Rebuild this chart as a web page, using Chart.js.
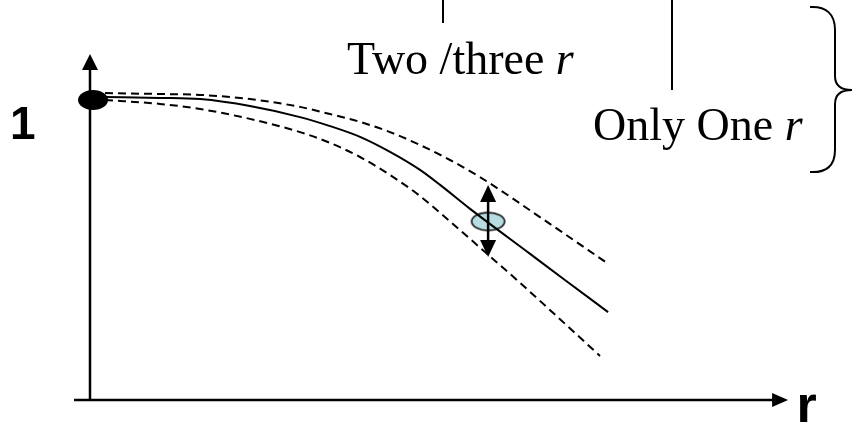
<!DOCTYPE html>
<html>
<head>
<meta charset="utf-8">
<script src="https://cdn.jsdelivr.net/npm/chart.js@4.4.0/dist/chart.umd.min.js"></script>
<style>
  body { margin: 0; background: #fff; }
  #myChart { display: block; }
</style>
</head>
<body>
<canvas id="myChart" width="856" height="427"></canvas>
<script>
// data (r along x, normalised value along y, 1 = start of the curve)
const rSolid = [0.05, 0.233, 0.367, 0.533, 0.7, 0.8, 0.9, 1.0, 1.1, 1.167, 1.267, 1.467, 1.583, 1.727];
const ySolid = [1.01, 1.007, 1.003, 0.98, 0.943, 0.913, 0.877, 0.827, 0.767, 0.717, 0.637, 0.487, 0.40, 0.293];

const rUpper = [0.05, 0.233, 0.367, 0.533, 0.7, 0.8, 0.9, 1.0, 1.1, 1.2, 1.3, 1.533, 1.723];
const yUpper = [1.023, 1.02, 1.017, 1.003, 0.977, 0.953, 0.927, 0.893, 0.85, 0.80, 0.743, 0.587, 0.457];

const rLower = [0.05, 0.233, 0.367, 0.533, 0.7, 0.8, 0.9, 1.0, 1.1, 1.183, 1.317, 1.423, 1.7];
const yLower = [1.0, 0.987, 0.97, 0.937, 0.893, 0.857, 0.81, 0.75, 0.68, 0.61, 0.493, 0.40, 0.147];

const startPoint = { x: 0.01, y: 1 };
const markPoint = { x: 1.327, y: 0.595 };
const markSpread = [0.477, 0.717];   // ends of the double arrow

const yTickLabel = '1';
const xAxisLabel = 'r';

function toXY(xs, ys) {
    return xs.map(function (x, i) { return { x: x, y: ys[i] }; });
}

function ellipseImage(w, h, fill, stroke) {
    const c = document.createElement('canvas');
    c.width = w + 4; c.height = h + 4;
    const g = c.getContext('2d');
    g.beginPath();
    g.ellipse(c.width / 2, c.height / 2, w / 2, h / 2, 0, 0, Math.PI * 2);
    g.fillStyle = fill;
    g.fill();
    if (stroke) { g.lineWidth = 1.5; g.strokeStyle = stroke; g.stroke(); }
    return c;
}

//--- axes, arrows, labels and brace
const sketchPlugin = {
    id: 'sketch',
    beforeDatasetsDraw: function (chart) {
        const g = chart.ctx, xs = chart.scales.x, ys = chart.scales.y;
        const x0 = xs.getPixelForValue(0), y0 = ys.getPixelForValue(0);
        g.save();
        g.strokeStyle = '#000'; g.fillStyle = '#000'; g.lineWidth = 2.5;
        // y axis
        const yTop = ys.getPixelForValue(1.153);
        g.beginPath(); g.moveTo(x0, y0 + 1); g.lineTo(x0, yTop + 12); g.stroke();
        g.beginPath(); g.moveTo(x0, yTop); g.lineTo(x0 - 8, yTop + 16); g.lineTo(x0 + 8, yTop + 16); g.closePath(); g.fill();
        // x axis
        const xEnd = xs.getPixelForValue(2.327);
        g.beginPath(); g.moveTo(x0 - 16, y0); g.lineTo(xEnd - 12, y0); g.stroke();
        g.beginPath(); g.moveTo(xEnd, y0); g.lineTo(xEnd - 16, y0 - 7); g.lineTo(xEnd - 16, y0 + 7); g.closePath(); g.fill();
        g.restore();
    },
    afterDatasetsDraw: function (chart) {
        const g = chart.ctx, xs = chart.scales.x, ys = chart.scales.y;
        g.save();
        g.strokeStyle = '#000'; g.fillStyle = '#000';

        // double arrow through the marked point
        const ax = xs.getPixelForValue(markPoint.x);
        const aTop = ys.getPixelForValue(markSpread[1]);
        const aBot = ys.getPixelForValue(markSpread[0]);
        g.lineWidth = 2.5;
        g.beginPath(); g.moveTo(ax, aTop + 10); g.lineTo(ax, aBot - 10); g.stroke();
        g.beginPath(); g.moveTo(ax, aTop); g.lineTo(ax - 8, aTop + 17); g.lineTo(ax + 8, aTop + 17); g.closePath(); g.fill();
        g.beginPath(); g.moveTo(ax, aBot); g.lineTo(ax - 8, aBot - 17); g.lineTo(ax + 8, aBot - 17); g.closePath(); g.fill();

        // tick label "1" and axis label "r"
        g.textBaseline = 'alphabetic'; g.textAlign = 'left';
        g.font = 'bold 46px "Liberation Sans", Arial, sans-serif';
        g.fillText(yTickLabel, 10, ys.getPixelForValue(0.87));
        g.font = 'bold 52px "Liberation Sans", Arial, sans-serif';
        g.fillText(xAxisLabel, xs.getPixelForValue(2.355), ys.getPixelForValue(-0.073));

        // annotations
        const serif = '"Liberation Serif", "Times New Roman", serif';
        function label(txt, x, y) {
            g.font = '46px ' + serif;
            g.fillText(txt, x, y);
            const w = g.measureText(txt).width;
            g.font = 'italic 46px ' + serif;
            g.fillText('r', x + w, y);
        }
        label('Two /three ', 347, 74);
        label('Only One ', 593, 140);

        g.lineWidth = 2;
        g.beginPath(); g.moveTo(443, 0); g.lineTo(443, 23); g.stroke();
        g.beginPath(); g.moveTo(672, 0); g.lineTo(672, 90); g.stroke();

        // right brace
        g.beginPath();
        g.moveTo(810, 7);
        g.bezierCurveTo(826, 6, 835, 14, 835, 30);
        g.lineTo(835, 76);
        g.bezierCurveTo(835, 86, 842, 90, 852, 90);
        g.bezierCurveTo(842, 90, 835, 94, 835, 104);
        g.lineTo(835, 150);
        g.bezierCurveTo(835, 166, 826, 173, 810, 172);
        g.stroke();
        g.restore();
    }
};

const ctx = document.getElementById('myChart');

new Chart(ctx, {
    type: 'line',
    data: {
        datasets: [
            {
                label: 'start',
                data: [startPoint],
                showLine: false,
                pointStyle: ellipseImage(30, 20, '#000', null),
                pointRadius: 15
            },
            {
                label: 'Only One r',
                data: toXY(rSolid, ySolid),
                borderColor: '#000', borderWidth: 2,
                pointRadius: 0, cubicInterpolationMode: 'monotone'
            },
            {
                label: 'upper',
                data: toXY(rUpper, yUpper),
                borderColor: '#000', borderWidth: 2, borderDash: [8, 5],
                pointRadius: 0, cubicInterpolationMode: 'monotone'
            },
            {
                label: 'lower',
                data: toXY(rLower, yLower),
                borderColor: '#000', borderWidth: 2, borderDash: [8, 5],
                pointRadius: 0, cubicInterpolationMode: 'monotone'
            },
            {
                label: 'mark',
                data: [markPoint],
                showLine: false,
                pointStyle: ellipseImage(33, 18, '#b7dde3', '#000'),
                pointRadius: 15
            }
        ]
    },
    options: {
        responsive: false,
        animation: false,
        layout: { padding: 0, autoPadding: false },
        plugins: { legend: { display: false }, tooltip: { enabled: false } },
        scales: {
            x: { type: 'linear', display: false, min: -0.3, max: 2.5533 },
            y: { type: 'linear', display: false, min: -0.09, max: 1.3333 }
        }
    },
    plugins: [sketchPlugin]
});
</script>
</body>
</html>
